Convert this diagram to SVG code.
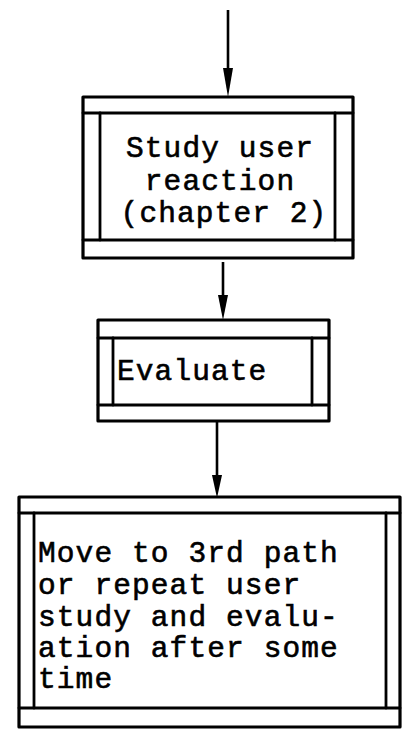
<svg xmlns="http://www.w3.org/2000/svg" width="405" height="732" viewBox="0 0 405 732">
  <style>
    .frame { fill: #fff; stroke: #000; stroke-width: 3.2; stroke-linejoin: round; }
    .rule { fill: none; stroke: #000; stroke-width: 2.8; stroke-linecap: round; }
    .wire { fill: none; stroke: #000; stroke-width: 2.6; }
    .label { font-family: "Liberation Mono", "Courier New", monospace; font-size: 29.5px; letter-spacing: 1.1px; fill: #000; stroke: #000; stroke-width: 0.6; }
  </style>

  <g id="connectors">
    <line class="wire" x1="228" y1="10" x2="228" y2="82"/>
    <path d="M223,68 L233,68 L228,97 Z" fill="#000"/>
    <line class="wire" x1="223" y1="262" x2="223" y2="300"/>
    <path d="M218,295 L228,295 L223,320 Z" fill="#000"/>
    <line class="wire" x1="217" y1="422" x2="217" y2="480"/>
    <path d="M212,475 L222,475 L217,498 Z" fill="#000"/>
  </g>

  <g id="study-user-reaction">
    <rect class="frame" x="83" y="97" width="270" height="161"/>
    <line class="rule" x1="83" y1="113" x2="353" y2="113"/>
    <line class="rule" x1="83" y1="240" x2="353" y2="240"/>
    <line class="rule" x1="100" y1="113" x2="100" y2="240"/>
    <line class="rule" x1="335" y1="113" x2="335" y2="240"/>
    <text class="label" x="220" y="157" text-anchor="middle">Study user</text>
    <text class="label" x="220" y="190" text-anchor="middle">reaction</text>
    <text class="label" x="224" y="222" text-anchor="middle">(chapter 2)</text>
  </g>

  <g id="evaluate">
    <rect class="frame" x="98" y="320" width="231" height="101"/>
    <line class="rule" x1="98" y1="338" x2="329" y2="338"/>
    <line class="rule" x1="98" y1="405" x2="329" y2="405"/>
    <line class="rule" x1="113" y1="338" x2="113" y2="405"/>
    <line class="rule" x1="312" y1="338" x2="312" y2="405"/>
    <text class="label" x="117" y="380">Evaluate</text>
  </g>

  <g id="next-step">
    <rect class="frame" x="19" y="497" width="381" height="230"/>
    <line class="rule" x1="19" y1="513" x2="400" y2="513"/>
    <line class="rule" x1="19" y1="708" x2="400" y2="708"/>
    <line class="rule" x1="34" y1="513" x2="34" y2="708"/>
    <line class="rule" x1="386" y1="513" x2="386" y2="708"/>
    <text class="label" x="38" y="562">Move to 3rd path</text>
    <text class="label" x="38" y="594">or repeat user</text>
    <text class="label" x="38" y="626">study and evalu-</text>
    <text class="label" x="38" y="657">ation after some</text>
    <text class="label" x="38" y="688">time</text>
  </g>
</svg>
